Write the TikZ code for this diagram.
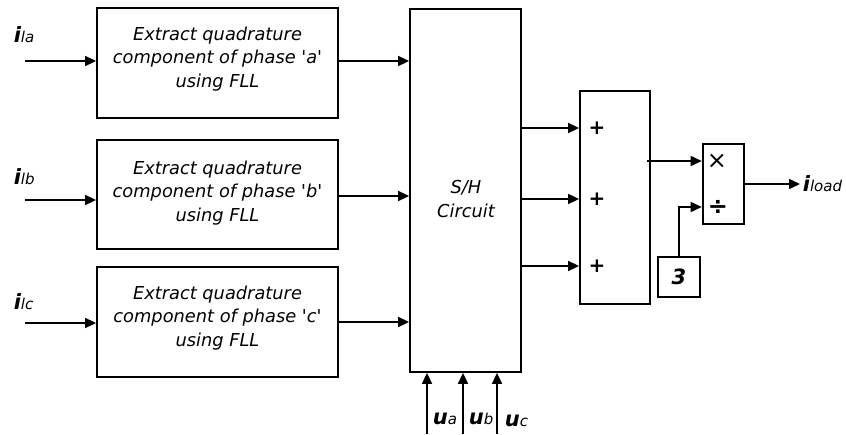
\documentclass[tikz,border=0pt]{standalone}
\usepackage{fontspec}
\setmainfont{DejaVu Sans}
\usetikzlibrary{arrows.meta}
\newcommand{\sig}[2]{{\fontsize{21}{21}\selectfont\bfseries\itshape #1}{\fontsize{15}{15}\selectfont\itshape #2}}
\newcommand{\q}{\textquotesingle}
\begin{document}
\begin{tikzpicture}[x=1pt,y=-1pt,
  line width=1.6pt,
  >={Triangle[length=11pt,width=10pt]},
  blk/.style={draw, line width=1.8pt, inner sep=0pt},
  txt/.style={align=center, font=\fontsize{17.8}{23.5}\selectfont\itshape, inner sep=0pt},
  sym/.style={font=\fontsize{20}{20}\selectfont\bfseries, inner sep=0pt}]
\useasboundingbox (0,0) rectangle (846,434);
% FLL boxes
\node[blk, minimum width=241pt, minimum height=110pt] (a) at (217.5,63) {};
\node[blk, minimum width=241pt, minimum height=109pt] (b) at (217.5,194.5) {};
\node[blk, minimum width=241pt, minimum height=110pt] (c) at (217.5,322) {};
\node[txt] (ta) at (217.5,59) {Extract quadrature\\component of phase \q a\q\\using FLL};
\node[txt] (tb) at (217.5,193) {Extract quadrature\\component of phase \q b\q\\using FLL};
\node[txt] (tc) at (217.5,318) {Extract quadrature\\component of phase \q c\q\\using FLL};
% S/H
\node[blk, minimum width=111pt, minimum height=363pt] (sh) at (465.5,190.5) {};
\node[txt] (tsh) at (466,199) {S/H\\Circuit};
% sum
\node[blk, minimum width=70pt, minimum height=213pt] (sum) at (615,197.5) {};
\node[sym] (p1) at (597,128) {+};
\node[sym] (p2) at (597,199) {+};
\node[sym] (p3) at (597,266) {+};
% product
\node[blk, line width=2.6pt, minimum width=41pt, minimum height=80pt] (prod) at (723.5,184) {};
\node[font=\fontsize{24}{24}\selectfont, inner sep=0pt] (mul) at (717,161) {×};
\node[font=\fontsize{24}{24}\selectfont\bfseries, inner sep=0pt] (dv) at (718,207) {÷};
% constant 3
\node[blk, minimum width=42pt, minimum height=40pt, font=\fontsize{21}{21}\selectfont\bfseries\itshape] (three) at (679,277) {3};
% inputs
\coordinate (ia) at (25,61);
\coordinate (ib) at (25,200);
\coordinate (ic) at (25,323);
\node[anchor=base west, inner sep=0pt] (la) at (13,42) {\sig{i}{la}};
\node[anchor=base west, inner sep=0pt] (lb) at (13,184) {\sig{i}{lb}};
\node[anchor=base west, inner sep=0pt] (lc) at (13,309) {\sig{i}{lc}};
\draw[->] (ia) -- (ia -| a.west);
\draw[->] (ib) -- (ib -| b.west);
\draw[->] (ic) -- (ic -| c.west);
% to S/H
\draw[->] ([yshift=2pt]a.east) -- ([yshift=2pt]a.east -| sh.west);
\draw[->] ([yshift=-1.5pt]b.east) -- ([yshift=-1.5pt]b.east -| sh.west);
\draw[->] (c.east) -- (c.east -| sh.west);
% S/H to sum
\draw[->] (sh.east |- p1) -- (sum.west |- p1);
\draw[->] (sh.east |- p2) -- (sum.west |- p2);
\draw[->] (sh.east |- p3) -- (sum.west |- p3);
% sum to product
\coordinate (s1) at (647,161);
\draw[->] (s1) -- (s1 -| prod.west);
\draw[->] (three.north) |- (prod.west |- dv);
% output
\coordinate (out) at (800,184);
\draw[->] (prod.east |- out) -- (out);
\node[anchor=base west, inner sep=0pt] (lo) at (802,191) {\sig{i}{load}};
% voltages
\coordinate (ua) at (427,434);
\coordinate (ub) at (463,434);
\coordinate (uc) at (497,434);
\draw[->] (ua) -- (ua |- sh.south);
\draw[->] (ub) -- (ub |- sh.south);
\draw[->] (uc) -- (uc |- sh.south);
\node[anchor=base west, inner sep=0pt] (lua) at (432,424) {\sig{u}{a}};
\node[anchor=base west, inner sep=0pt] (lub) at (468,424) {\sig{u}{b}};
\node[anchor=base west, inner sep=0pt] (luc) at (504,426) {\sig{u}{c}};
\end{tikzpicture}
\end{document}
